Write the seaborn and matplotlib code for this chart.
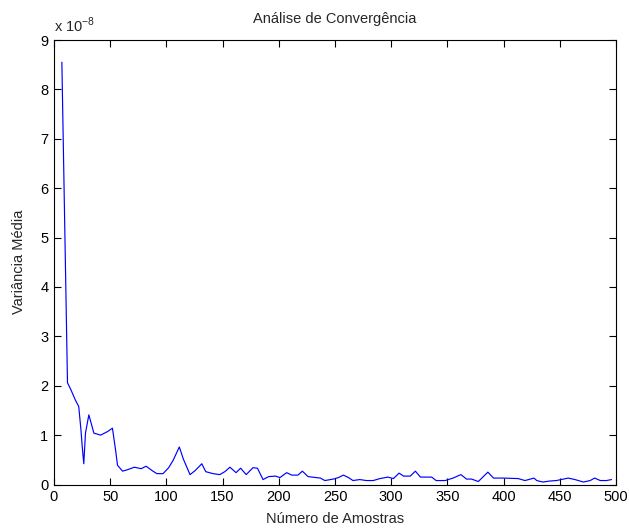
import matplotlib
matplotlib.use("Agg")
import matplotlib.pyplot as plt
import seaborn as sns
import pandas as pd
import numpy as np

# Data (values in units of 1e-8)
amostras = [7, 12, 15, 19, 22, 24, 25, 26.5, 28, 31, 35.5, 41.5, 47.5, 52, 55, 56.5,
            61, 65.5, 71.5, 77.5, 82, 88, 91.5, 97, 102, 106, 111.5, 115, 121, 125.5,
            131.5, 135, 141.5, 147.5, 152, 156.5, 162, 166, 171, 177, 181, 186, 191,
            197, 201, 207, 211.5, 217, 221, 226, 237, 241, 248.5, 253, 257.5, 262,
            266, 272, 278, 284, 290, 297, 302, 307, 311, 317, 321.5, 326, 336, 340,
            348, 355, 362, 367, 371.5, 377.5, 386, 391, 400, 413, 419, 427, 429.5,
            435, 441, 447, 457.5, 463.5, 471, 477, 481, 486, 491.5, 496]
variancia_e8 = [8.55, 2.06, 1.92, 1.71, 1.58, 1.1, 0.8, 0.42, 1.04, 1.41, 1.04, 1.0,
                1.07, 1.14, 0.66, 0.39, 0.27, 0.3, 0.35, 0.32, 0.37, 0.27, 0.22, 0.22,
                0.34, 0.49, 0.76, 0.52, 0.2, 0.28, 0.42, 0.26, 0.22, 0.2, 0.26, 0.35,
                0.24, 0.33, 0.2, 0.34, 0.33, 0.1, 0.16, 0.17, 0.14, 0.24, 0.19, 0.19,
                0.27, 0.16, 0.13, 0.08, 0.11, 0.14, 0.19, 0.14, 0.08, 0.1, 0.08, 0.08,
                0.12, 0.15, 0.12, 0.23, 0.17, 0.17, 0.27, 0.15, 0.15, 0.08, 0.08, 0.13,
                0.2, 0.11, 0.11, 0.06, 0.25, 0.13, 0.13, 0.12, 0.08, 0.13, 0.08, 0.05,
                0.07, 0.08, 0.13, 0.1, 0.05, 0.08, 0.13, 0.08, 0.08, 0.1]

titulo = "Análise de Convergência"
rotulo_x = "Número de Amostras"
rotulo_y = "Variância Média"
expoente = "x 10$^{-8}$"
xticks = [0, 50, 100, 150, 200, 250, 300, 350, 400, 450, 500]
yticks = [0, 1, 2, 3, 4, 5, 6, 7, 8, 9]

sns.set_style("white")
plt.rcParams['font.family'] = ['Liberation Sans', 'DejaVu Sans']
plt.rcParams['mathtext.fontset'] = 'custom'
plt.rcParams['mathtext.rm'] = 'Liberation Sans'
plt.rcParams['font.size'] = 10.5

df = pd.DataFrame({"x": amostras, "y": variancia_e8})

fig = plt.figure(figsize=(6.29, 5.30), dpi=100)
ax = fig.add_axes([54/629, 1 - 484.5/530, (616-54)/629, (484.5-40)/530])
sns.lineplot(data=df, x="x", y="y", ax=ax, color="#0000ff", linewidth=0.85)

ax.set_xlim(0, 500)
ax.set_ylim(0, 9)
ax.set_xticks(xticks)
ax.set_yticks(yticks)
ax.set_yticklabels([str(t) for t in yticks])

ax.text(0.0, 1.012, expoente, transform=ax.transAxes, ha="left", va="bottom",
        fontsize=10.5)

ax.set_title(titulo, fontsize=10.5, pad=12)
ax.set_xlabel(rotulo_x, fontsize=10.5, labelpad=6)
ax.set_ylabel(rotulo_y, fontsize=10.5, labelpad=10)

for s in ax.spines.values():
    s.set_visible(True)
    s.set_color("black")
    s.set_linewidth(0.8)
ax.tick_params(direction="in", length=5, width=0.8, top=True, right=True,
               bottom=True, left=True, labelsize=10.5, colors="black", pad=4)

fig.savefig("out.png", dpi=100, facecolor="white")
